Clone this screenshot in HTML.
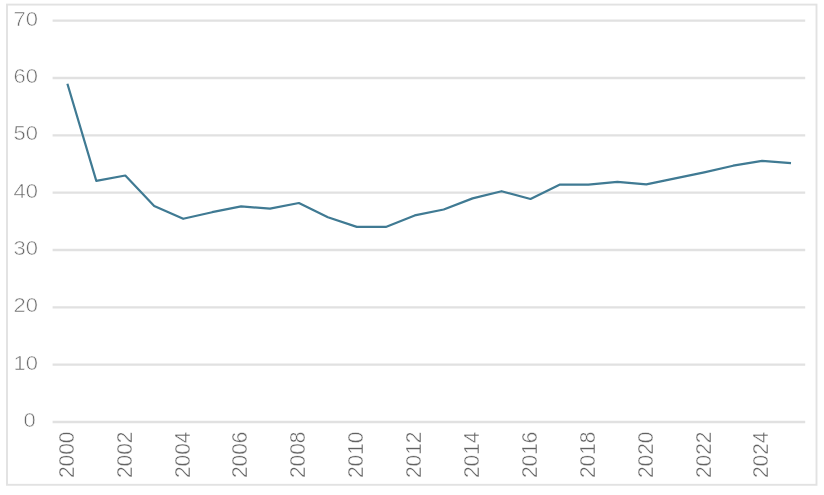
<!DOCTYPE html>
<html><head><meta charset="utf-8"><title>Chart</title>
<style>
html,body{margin:0;padding:0;background:#fff;}
body{width:824px;height:495px;overflow:hidden;}
svg{display:block;}
text{font-family:"Liberation Sans",sans-serif;font-size:20px;fill:#6a6a6a;stroke:#fff;stroke-width:0.55px;}
.xl text{fill:#626262;stroke-width:0.4px;}
</style></head><body>
<svg width="824" height="495" viewBox="0 0 824 495">
<defs><filter id="b" x="-2%" y="-2%" width="104%" height="104%"><feGaussianBlur stdDeviation="0.7"/></filter></defs>
<rect width="824" height="495" fill="#fff"/>
<g filter="url(#b)">
<rect x="7" y="4.6" width="809.5" height="480.2" fill="none" stroke="#e2e2e2" stroke-width="1.9"/>
<g stroke="#e1e1e1" stroke-width="2.3"><line x1="52.6" x2="805.2" y1="422.00" y2="422.00"/><line x1="52.6" x2="805.2" y1="364.67" y2="364.67"/><line x1="52.6" x2="805.2" y1="307.34" y2="307.34"/><line x1="52.6" x2="805.2" y1="250.01" y2="250.01"/><line x1="52.6" x2="805.2" y1="192.68" y2="192.68"/><line x1="52.6" x2="805.2" y1="135.35" y2="135.35"/><line x1="52.6" x2="805.2" y1="78.02" y2="78.02"/><line x1="52.6" x2="805.2" y1="20.69" y2="20.69"/></g>
<polyline points="67.4,83.8 96.3,180.9 125.3,175.5 154.2,205.9 183.2,218.8 212.1,212.2 241.1,206.4 270.0,208.7 298.9,203.0 327.9,217.3 356.8,226.9 385.8,226.9 414.7,215.4 443.7,209.5 472.6,198.4 501.6,191.2 530.5,199.0 559.5,184.7 588.4,184.7 617.4,181.8 646.3,184.4 675.2,178.3 704.2,172.3 733.1,165.7 762.1,160.9 791.0,163.1" fill="none" stroke="#3f7a93" stroke-width="2.2" stroke-linejoin="round"/>
<g><text transform="translate(35.8,427.10) scale(1.1,1.05)" text-anchor="end">0</text><text transform="translate(38.0,369.77) scale(1.1,1.05)" text-anchor="end">10</text><text transform="translate(38.0,312.44) scale(1.1,1.05)" text-anchor="end">20</text><text transform="translate(38.0,255.11) scale(1.1,1.05)" text-anchor="end">30</text><text transform="translate(38.0,197.78) scale(1.1,1.05)" text-anchor="end">40</text><text transform="translate(38.0,140.45) scale(1.1,1.05)" text-anchor="end">50</text><text transform="translate(38.0,83.12) scale(1.1,1.05)" text-anchor="end">60</text><text transform="translate(38.0,25.79) scale(1.1,1.05)" text-anchor="end">70</text></g>
<g class="xl"><text transform="translate(73.77,478.0) rotate(-90) scale(1.045,1.08)">2000</text><text transform="translate(131.67,478.0) rotate(-90) scale(1.045,1.08)">2002</text><text transform="translate(189.56,478.0) rotate(-90) scale(1.045,1.08)">2004</text><text transform="translate(247.45,478.0) rotate(-90) scale(1.045,1.08)">2006</text><text transform="translate(305.34,478.0) rotate(-90) scale(1.045,1.08)">2008</text><text transform="translate(363.23,478.0) rotate(-90) scale(1.045,1.08)">2010</text><text transform="translate(421.13,478.0) rotate(-90) scale(1.045,1.08)">2012</text><text transform="translate(479.02,478.0) rotate(-90) scale(1.045,1.08)">2014</text><text transform="translate(536.91,478.0) rotate(-90) scale(1.045,1.08)">2016</text><text transform="translate(594.80,478.0) rotate(-90) scale(1.045,1.08)">2018</text><text transform="translate(652.70,478.0) rotate(-90) scale(1.045,1.08)">2020</text><text transform="translate(710.59,478.0) rotate(-90) scale(1.045,1.08)">2022</text><text transform="translate(768.48,478.0) rotate(-90) scale(1.045,1.08)">2024</text></g>
</g>
</svg>
</body></html>
